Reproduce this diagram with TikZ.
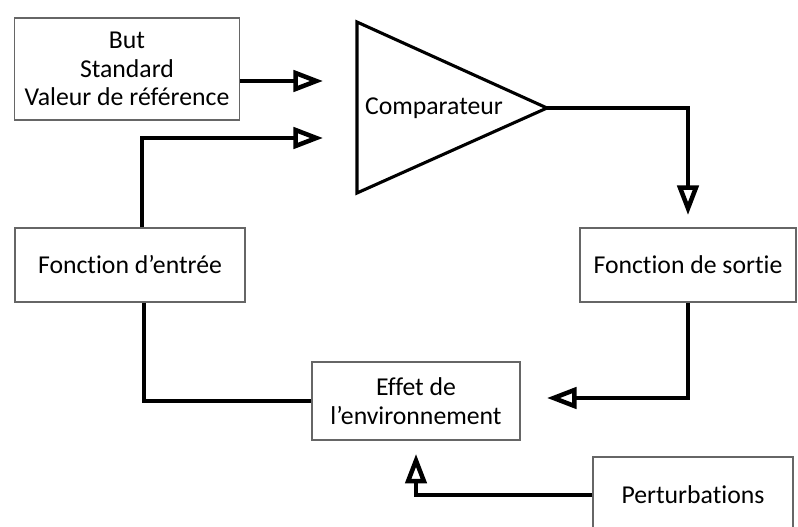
\documentclass[tikz,border=0pt]{standalone}
\usepackage{fontspec}
\setmainfont{Carlito}[Ligatures=NoCommon]
\usetikzlibrary{arrows.meta}
\begin{document}
\begin{tikzpicture}[x=0.025cm, y=-0.025cm,
  font=\fontsize{18.3}{20.2}\selectfont,
  box/.style={draw=black!60, line width=1pt, fill=white, align=center, inner sep=0pt},
  link/.style={line width=3.2pt},
  flow/.style={link, -{Triangle[open, length=21pt, width=15pt]}}]
  \useasboundingbox (0,0) rectangle (798,527);
  \clip (0,0) rectangle (798,527);
  % comparateur
  \coordinate (T1) at (357,22);
  \coordinate (T2) at (357,193);
  \coordinate (apex) at (547,108);
  \draw[line width=2.2pt] (T1) -- (T2) -- (apex) -- cycle;
  \node (comp) at (434,108) {Comparateur};
  % boxes
  \node[box, minimum width=5.625cm, minimum height=2.55cm] (but) at (127,69) {But\\Standard\\Valeur de référence};
  \node[box, minimum width=5.75cm, minimum height=1.85cm] (entree) at (130,265) {Fonction d’entrée};
  \node[box, minimum width=5.4cm, minimum height=1.85cm] (sortie) at (688,265) {Fonction de sortie};
  \node[box, minimum width=5.2cm, minimum height=1.95cm] (effet) at (416,401) {Effet de\\l’environnement};
  \node[box, minimum width=5cm, minimum height=1.9cm] (perturb) at (693,495) {Perturbations};
  % arrow ends
  \coordinate (in1) at (323,81);
  \coordinate (in2) at (323,138);
  \coordinate (out) at (688,215);
  \coordinate (back) at (547,398);
  % connectors
  \draw[flow] (but.east |- in1) -- (in1);
  \draw[flow] ([xshift=0.3cm]entree.north) |- (in2);
  \draw[flow] (apex) -| (out);
  \draw[flow] (sortie.south) |- (back);
  \draw[link] ([xshift=0.35cm]entree.south) |- (effet.west);
  \draw[flow] (perturb.west) -| ([yshift=-0.33cm]effet.south);
\end{tikzpicture}
\end{document}
